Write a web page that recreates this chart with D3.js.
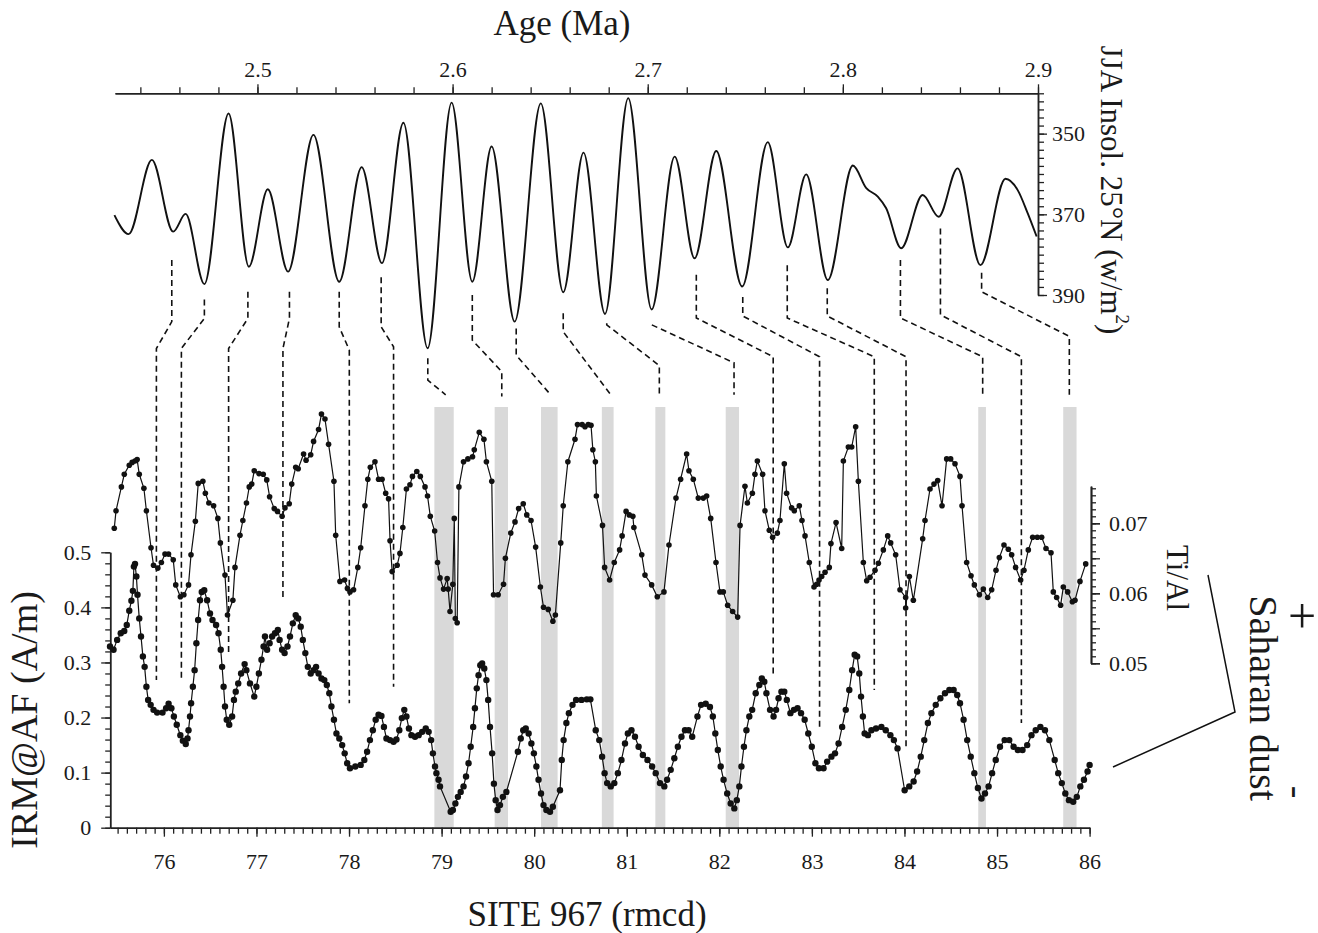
<!DOCTYPE html>
<html>
<head>
<meta charset="utf-8">
<script src="https://cdn.jsdelivr.net/npm/d3@7"></script>
<style>
body { margin: 0; background: #fff; }
text { font-family: "Liberation Serif", "Times New Roman", serif; fill: #1a1a1a; }
</style>
</head>
<body>
<div id="chart"></div>
<script>
const w = 1318;
const h = 933;

// tick labels
const ageTicks = [2.5, 2.6, 2.7, 2.8, 2.9];
const insolTicks = [350, 370, 390];
const tiAlTicks = [0.05, 0.06, 0.07];
const irmTicks = [0, 0.1, 0.2, 0.3, 0.4, 0.5];
const depthTicks = [76, 77, 78, 79, 80, 81, 82, 83, 84, 85, 86];

// JJA insolation 25N: [age Ma, W/m2]
const insolation = [
  [2.4267, 370.2], [2.4340, 374.9], [2.4459, 356.5], [2.4568, 374.3], [2.4632, 369.9],
  [2.4728, 387.3], [2.4852, 345.0], [2.4956, 383.0], [2.5053, 363.8], [2.5157, 384.2],
  [2.5287, 350.3], [2.5419, 386.7], [2.5534, 358.3], [2.5638, 382.1], [2.5748, 347.3],
  [2.5872, 403.2], [2.5995, 342.3], [2.6101, 386.7], [2.6200, 353.2], [2.6318, 396.6],
  [2.6452, 342.5], [2.6567, 389.3], [2.6671, 354.7], [2.6781, 394.7], [2.6900, 341.2],
  [2.7020, 393.6], [2.7138, 355.7], [2.7240, 380.9], [2.7351, 354.3], [2.7484, 387.9],
  [2.7615, 352.1], [2.7718, 378.2], [2.7812, 360.1], [2.7923, 386.3], [2.8051, 357.9],
  [2.8120, 363.5], [2.8179, 365.6], [2.8222, 368.5], [2.8299, 378.4], [2.8409, 365.2],
  [2.8491, 370.6], [2.8588, 358.6], [2.8705, 382.6], [2.8833, 361.2], [2.8896, 364.0],
  [2.8947, 369.7], [2.8993, 375.5]
];

// Ti/Al: [depth rmcd, ratio]
const tiAl = [
  [75.464, 0.0693], [75.483, 0.0718], [75.541, 0.0752], [75.572, 0.0770], [75.626, 0.0783],
  [75.657, 0.0787], [75.688, 0.0789], [75.711, 0.0791], [75.734, 0.0770], [75.784, 0.0750],
  [75.811, 0.0718], [75.861, 0.0665], [75.888, 0.0640], [75.935, 0.0636], [75.973, 0.0644],
  [76.012, 0.0656], [76.050, 0.0656], [76.101, 0.0648], [76.128, 0.0612], [76.178, 0.0595],
  [76.216, 0.0598], [76.266, 0.0612], [76.293, 0.0655], [76.340, 0.0703], [76.371, 0.0757],
  [76.421, 0.0760], [76.448, 0.0743], [76.486, 0.0729], [76.537, 0.0725], [76.583, 0.0707],
  [76.610, 0.0672], [76.660, 0.0626], [76.687, 0.0569], [76.745, 0.0590], [76.768, 0.0637],
  [76.822, 0.0683], [76.853, 0.0704], [76.892, 0.0729], [76.922, 0.0752], [76.949, 0.0756],
  [76.976, 0.0775], [77.027, 0.0771], [77.073, 0.0770], [77.111, 0.0762], [77.142, 0.0738],
  [77.192, 0.0721], [77.227, 0.0717], [77.277, 0.0710], [77.308, 0.0722], [77.354, 0.0728],
  [77.381, 0.0756], [77.424, 0.0780], [77.451, 0.0778], [77.509, 0.0799], [77.536, 0.0790],
  [77.586, 0.0798], [77.617, 0.0817], [77.671, 0.0834], [77.702, 0.0856], [77.740, 0.0849],
  [77.779, 0.0813], [77.837, 0.0760], [77.856, 0.0683], [77.902, 0.0617], [77.952, 0.0619],
  [77.983, 0.0607], [78.010, 0.0602], [78.049, 0.0605], [78.095, 0.0637], [78.126, 0.0665],
  [78.172, 0.0725], [78.203, 0.0763], [78.230, 0.0780], [78.280, 0.0788], [78.319, 0.0763],
  [78.357, 0.0763], [78.396, 0.0743], [78.427, 0.0735], [78.443, 0.0675], [78.466, 0.0631],
  [78.520, 0.0640], [78.550, 0.0657], [78.581, 0.0694], [78.620, 0.0749], [78.658, 0.0755],
  [78.685, 0.0767], [78.732, 0.0774], [78.770, 0.0767], [78.821, 0.0752], [78.848, 0.0739],
  [78.878, 0.0710], [78.925, 0.0689], [78.956, 0.0644], [78.983, 0.0622], [79.021, 0.0606],
  [79.060, 0.0621], [79.071, 0.0606], [79.091, 0.0574], [79.121, 0.0613], [79.137, 0.0707],
  [79.148, 0.0564], [79.168, 0.0558], [79.187, 0.0752], [79.237, 0.0788], [79.284, 0.0792],
  [79.334, 0.0795], [79.353, 0.0805], [79.407, 0.0830], [79.457, 0.0820], [79.484, 0.0788],
  [79.542, 0.0760], [79.561, 0.0598], [79.611, 0.0598], [79.669, 0.0613], [79.689, 0.0650],
  [79.747, 0.0686], [79.793, 0.0702], [79.832, 0.0721], [79.882, 0.0728], [79.920, 0.0712],
  [79.966, 0.0704], [80.016, 0.0666], [80.067, 0.0609], [80.101, 0.0580], [80.152, 0.0577],
  [80.202, 0.0560], [80.229, 0.0569], [80.287, 0.0672], [80.314, 0.0725], [80.364, 0.0788],
  [80.441, 0.0820], [80.468, 0.0841], [80.518, 0.0841], [80.549, 0.0838], [80.584, 0.0841],
  [80.614, 0.0840], [80.634, 0.0805], [80.661, 0.0788], [80.672, 0.0739], [80.738, 0.0697],
  [80.761, 0.0637], [80.815, 0.0619], [80.865, 0.0644], [80.923, 0.0662], [80.950, 0.0682],
  [80.993, 0.0717], [81.027, 0.0712], [81.066, 0.0710], [81.077, 0.0694], [81.162, 0.0655],
  [81.197, 0.0626], [81.269, 0.0612], [81.330, 0.0595], [81.402, 0.0602], [81.456, 0.0669],
  [81.532, 0.0736], [81.582, 0.0763], [81.647, 0.0799], [81.672, 0.0775], [81.719, 0.0763],
  [81.773, 0.0736], [81.827, 0.0736], [81.863, 0.0739], [81.907, 0.0707], [81.964, 0.0644],
  [82.007, 0.0602], [82.043, 0.0602], [82.090, 0.0583], [82.144, 0.0574], [82.198, 0.0566],
  [82.224, 0.0697], [82.277, 0.0753], [82.303, 0.0729], [82.357, 0.0743], [82.385, 0.0770],
  [82.411, 0.0789], [82.468, 0.0770], [82.493, 0.0718], [82.540, 0.0690], [82.576, 0.0680],
  [82.627, 0.0686], [82.655, 0.0704], [82.702, 0.0785], [82.727, 0.0743], [82.781, 0.0722],
  [82.810, 0.0718], [82.864, 0.0725], [82.893, 0.0704], [82.926, 0.0682], [82.972, 0.0644],
  [83.023, 0.0609], [83.052, 0.0613], [83.077, 0.0619], [83.106, 0.0624], [83.142, 0.0630],
  [83.188, 0.0637], [83.206, 0.0671], [83.261, 0.0701], [83.322, 0.0664], [83.340, 0.0789],
  [83.394, 0.0809], [83.430, 0.0809], [83.473, 0.0838], [83.502, 0.0760], [83.556, 0.0644],
  [83.592, 0.0618], [83.628, 0.0623], [83.682, 0.0633], [83.718, 0.0643], [83.772, 0.0662],
  [83.819, 0.0682], [83.851, 0.0672], [83.905, 0.0655], [83.952, 0.0605], [84.013, 0.0594],
  [84.013, 0.0579], [84.053, 0.0624], [84.096, 0.0590], [84.197, 0.0678], [84.222, 0.0704],
  [84.276, 0.0749], [84.319, 0.0756], [84.359, 0.0761], [84.406, 0.0725], [84.456, 0.0792],
  [84.499, 0.0792], [84.546, 0.0785], [84.600, 0.0767], [84.622, 0.0725], [84.672, 0.0644],
  [84.719, 0.0625], [84.755, 0.0612], [84.809, 0.0598], [84.852, 0.0606], [84.899, 0.0594],
  [84.942, 0.0605], [84.989, 0.0633], [85.025, 0.0651], [85.075, 0.0669], [85.122, 0.0663],
  [85.158, 0.0655], [85.201, 0.0637], [85.255, 0.0619], [85.291, 0.0633], [85.338, 0.0662],
  [85.385, 0.0680], [85.435, 0.0680], [85.482, 0.0680], [85.529, 0.0664], [85.583, 0.0658],
  [85.608, 0.0602], [85.644, 0.0594], [85.687, 0.0583], [85.716, 0.0609], [85.763, 0.0602],
  [85.814, 0.0588], [85.842, 0.0590], [85.896, 0.0617], [85.958, 0.0642]
];

// IRM@AF: [depth rmcd, A/m]
const irm = [
  [75.418, 0.329], [75.456, 0.323], [75.495, 0.341], [75.534, 0.353], [75.572, 0.357],
  [75.599, 0.368], [75.626, 0.394], [75.649, 0.412], [75.665, 0.430], [75.676, 0.474],
  [75.688, 0.479], [75.703, 0.456], [75.715, 0.423], [75.734, 0.380], [75.753, 0.347],
  [75.773, 0.311], [75.792, 0.292], [75.811, 0.256], [75.830, 0.232], [75.857, 0.223],
  [75.888, 0.214], [75.927, 0.209], [75.985, 0.209], [76.024, 0.217], [76.051, 0.225],
  [76.081, 0.217], [76.108, 0.202], [76.139, 0.187], [76.178, 0.168], [76.205, 0.158],
  [76.236, 0.152], [76.255, 0.162], [76.266, 0.177], [76.282, 0.202], [76.294, 0.226],
  [76.313, 0.256], [76.332, 0.286], [76.351, 0.335], [76.370, 0.377], [76.390, 0.413],
  [76.409, 0.428], [76.436, 0.431], [76.467, 0.413], [76.498, 0.389], [76.525, 0.377],
  [76.564, 0.368], [76.590, 0.353], [76.614, 0.323], [76.629, 0.292], [76.645, 0.256],
  [76.660, 0.220], [76.679, 0.196], [76.706, 0.187], [76.737, 0.202], [76.757, 0.232],
  [76.776, 0.247], [76.803, 0.262], [76.834, 0.280], [76.872, 0.297], [76.891, 0.286],
  [76.930, 0.262], [76.976, 0.238], [76.999, 0.256], [77.026, 0.280], [77.054, 0.305],
  [77.077, 0.329], [77.092, 0.347], [77.115, 0.323], [77.142, 0.335], [77.169, 0.347],
  [77.200, 0.353], [77.231, 0.359], [77.250, 0.341], [77.277, 0.323], [77.304, 0.317],
  [77.335, 0.329], [77.362, 0.347], [77.393, 0.371], [77.424, 0.386], [77.451, 0.380],
  [77.478, 0.365], [77.501, 0.341], [77.528, 0.317], [77.555, 0.292], [77.586, 0.280],
  [77.617, 0.286], [77.644, 0.292], [77.671, 0.280], [77.702, 0.271], [77.733, 0.268],
  [77.760, 0.259], [77.787, 0.244], [77.810, 0.220], [77.837, 0.196], [77.864, 0.171],
  [77.895, 0.162], [77.926, 0.150], [77.953, 0.135], [77.980, 0.117], [78.010, 0.108],
  [78.068, 0.111], [78.126, 0.114], [78.165, 0.123], [78.195, 0.138], [78.226, 0.159],
  [78.257, 0.177], [78.288, 0.196], [78.319, 0.205], [78.350, 0.203], [78.377, 0.183],
  [78.404, 0.162], [78.443, 0.159], [78.481, 0.156], [78.512, 0.160], [78.543, 0.177],
  [78.570, 0.199], [78.597, 0.214], [78.620, 0.202], [78.647, 0.180], [78.674, 0.168],
  [78.713, 0.165], [78.752, 0.168], [78.790, 0.174], [78.829, 0.180], [78.860, 0.174],
  [78.887, 0.159], [78.906, 0.135], [78.929, 0.111], [78.944, 0.099], [78.967, 0.087],
  [78.983, 0.075], [79.098, 0.029], [79.122, 0.032], [79.149, 0.044], [79.176, 0.056],
  [79.206, 0.065], [79.237, 0.075], [79.264, 0.093], [79.291, 0.117], [79.314, 0.147],
  [79.341, 0.183], [79.360, 0.217], [79.380, 0.253], [79.399, 0.277], [79.418, 0.295],
  [79.438, 0.298], [79.461, 0.289], [79.484, 0.268], [79.503, 0.232], [79.523, 0.183],
  [79.546, 0.135], [79.565, 0.080], [79.584, 0.050], [79.604, 0.032], [79.631, 0.041],
  [79.662, 0.056], [79.700, 0.065], [79.824, 0.138], [79.855, 0.162], [79.882, 0.177],
  [79.909, 0.180], [79.940, 0.171], [79.970, 0.153], [79.997, 0.135], [80.024, 0.111],
  [80.047, 0.087], [80.074, 0.062], [80.101, 0.041], [80.132, 0.032], [80.171, 0.029],
  [80.202, 0.038], [80.279, 0.068], [80.298, 0.123], [80.318, 0.159], [80.348, 0.190],
  [80.375, 0.208], [80.414, 0.223], [80.453, 0.232], [80.511, 0.232], [80.568, 0.233],
  [80.607, 0.233], [80.665, 0.177], [80.703, 0.159], [80.734, 0.129], [80.761, 0.099],
  [80.788, 0.081], [80.827, 0.075], [80.866, 0.081], [80.904, 0.099], [80.943, 0.123],
  [80.981, 0.153], [81.012, 0.171], [81.051, 0.177], [81.089, 0.165], [81.128, 0.147],
  [81.174, 0.132], [81.224, 0.123], [81.274, 0.111], [81.313, 0.099], [81.359, 0.081],
  [81.406, 0.075], [81.436, 0.087], [81.475, 0.105], [81.514, 0.126], [81.552, 0.147],
  [81.591, 0.165], [81.629, 0.177], [81.668, 0.177], [81.707, 0.165], [81.764, 0.202],
  [81.803, 0.223], [81.853, 0.225], [81.899, 0.219], [81.930, 0.202], [81.957, 0.171],
  [81.984, 0.141], [82.015, 0.111], [82.046, 0.087], [82.085, 0.062], [82.123, 0.044],
  [82.162, 0.035], [82.189, 0.050], [82.216, 0.075], [82.239, 0.111], [82.266, 0.147],
  [82.293, 0.177], [82.324, 0.202], [82.355, 0.214], [82.393, 0.244], [82.432, 0.259],
  [82.459, 0.271], [82.486, 0.265], [82.509, 0.244], [82.548, 0.214], [82.586, 0.202],
  [82.613, 0.214], [82.640, 0.235], [82.671, 0.247], [82.702, 0.247], [82.729, 0.232],
  [82.768, 0.208], [82.806, 0.214], [82.845, 0.217], [82.883, 0.208], [82.922, 0.196],
  [82.961, 0.171], [82.999, 0.147], [83.038, 0.117], [83.076, 0.108], [83.126, 0.108],
  [83.165, 0.120], [83.211, 0.129], [83.250, 0.135], [83.288, 0.153], [83.327, 0.183],
  [83.366, 0.214], [83.404, 0.250], [83.435, 0.286], [83.462, 0.314], [83.489, 0.311],
  [83.512, 0.280], [83.531, 0.238], [83.551, 0.202], [83.570, 0.171], [83.605, 0.168],
  [83.643, 0.177], [83.693, 0.180], [83.751, 0.183], [83.798, 0.177], [83.848, 0.168],
  [83.886, 0.159], [83.925, 0.144], [84.002, 0.068], [84.052, 0.075], [84.099, 0.084],
  [84.137, 0.102], [84.176, 0.129], [84.214, 0.159], [84.253, 0.190], [84.291, 0.208],
  [84.338, 0.223], [84.388, 0.235], [84.438, 0.244], [84.485, 0.250], [84.531, 0.250],
  [84.570, 0.241], [84.600, 0.226], [84.639, 0.196], [84.678, 0.159], [84.716, 0.129],
  [84.755, 0.099], [84.793, 0.072], [84.832, 0.053], [84.870, 0.062], [84.909, 0.075],
  [84.947, 0.099], [84.986, 0.123], [85.032, 0.147], [85.082, 0.159], [85.132, 0.159],
  [85.179, 0.147], [85.225, 0.141], [85.275, 0.141], [85.326, 0.150], [85.372, 0.168],
  [85.418, 0.177], [85.468, 0.183], [85.518, 0.177], [85.565, 0.159], [85.623, 0.123],
  [85.661, 0.099], [85.700, 0.081], [85.738, 0.062], [85.777, 0.050], [85.823, 0.047],
  [85.862, 0.056], [85.900, 0.075], [85.939, 0.087], [85.978, 0.102], [86.000, 0.114]
];

// low-dust intervals (depth from, to)
const dustBands = [
  [78.922, 79.131], [79.573, 79.717], [80.074, 80.253], [80.731, 80.858],
  [81.309, 81.417], [82.069, 82.213], [84.797, 84.880], [85.715, 85.859]
];

// tie points: [age, depth, insol start, insol bend, irm bend, irm end]
const ties = [
  [2.4561, 75.919, 381.3, 396.6, 0.870, 0.268],
  [2.4728, 76.189, 391.1, 395.8, 0.870, 0.271],
  [2.4951, 76.699, 389.2, 395.8, 0.870, 0.314],
  [2.5164, 77.286, 389.2, 395.8, 0.870, 0.413],
  [2.5419, 78.003, 389.2, 397.9, 0.867, 0.226],
  [2.5634, 78.481, 385.6, 397.9, 0.873, 0.256],
  [2.5873, 79.044, 405.7, 411.1, 0.786, 0.786],
  [2.6101, 79.650, 390.0, 401.2, 0.828, 0.783],
  [2.6326, 80.178, 398.3, 404.9, 0.786, 0.786],
  [2.6567, 80.827, 394.5, 399.1, 0.786, 0.786],
  [2.6790, 81.352, 397.0, 397.4, 0.839, 0.786],
  [2.7021, 82.159, 397.4, 397.4, 0.844, 0.786],
  [2.7249, 82.582, 385.0, 395.7, 0.855, 0.274],
  [2.7487, 83.083, 390.5, 395.2, 0.855, 0.177],
  [2.7715, 83.674, 382.6, 395.7, 0.855, 0.250],
  [2.7920, 84.017, 388.3, 395.2, 0.855, 0.147],
  [2.8295, 84.845, 381.3, 395.7, 0.855, 0.786],
  [2.8500, 85.263, 373.5, 394.9, 0.855, 0.190],
  [2.8711, 85.781, 384.5, 389.2, 0.892, 0.786]
];

const svg = d3.select("div#chart").append("svg")
    .attr("width", w).attr("height", h)
    .style("background-color", "#fff");

// scales
const xAge = d3.scaleLinear().domain([2.427, 2.9]).range([115, 1038]);
const yIns = d3.scaleLinear().domain([340, 390]).range([93.3, 295]);
const xDep = d3.scaleLinear().domain([75.42, 86]).range([110.2, 1089.6]);
const yTi = d3.scaleLinear().domain([0.05, 0.0753]).range([663.3, 486.2]);
const yIrm = d3.scaleLinear().domain([0, 0.5]).range([827.7, 552.3]);

const bandTop = 407;
const tickFont = 22;
const serif = "'Liberation Serif', 'Times New Roman', serif";

// grey bands
svg.selectAll("rect.band")
    .data(dustBands)
    .enter()
    .append("rect")
    .attr("class", "band")
    .attr("x", d => xDep(d[0]))
    .attr("width", d => xDep(d[1]) - xDep(d[0]))
    .attr("y", bandTop)
    .attr("height", yIrm(0) - bandTop)
    .attr("fill", "#d9d9d9");

function styleAxis(g) {
    g.attr("font-family", serif).attr("font-size", tickFont);
    g.selectAll("path.domain").attr("stroke", "#222").attr("stroke-width", 1.5);
    g.selectAll(".tick line").attr("stroke", "#222").attr("stroke-width", 1.3);
    g.selectAll("text").attr("fill", "#1a1a1a");
}

// top age axis
const ageMinor = d3.range(122, 146).map(i => i / 50);
svg.append("g").attr("transform", "translate(0,93.3)")
    .call(d3.axisTop(xAge).tickValues(ageMinor).tickSize(6).tickSizeOuter(0).tickFormat(""))
    .call(styleAxis);
svg.append("g").attr("transform", "translate(0,93.3)")
    .call(d3.axisTop(xAge).tickValues(ageTicks).tickSize(9).tickSizeOuter(0).tickPadding(7).tickFormat(d3.format(".1f")))
    .call(styleAxis);

// right insolation axis
const insMinor = d3.range(340, 391, 2);
svg.append("g").attr("transform", "translate(1038,0)")
    .call(d3.axisRight(yIns).tickValues(insMinor).tickSize(6).tickSizeOuter(0).tickFormat(""))
    .call(styleAxis);
svg.append("g").attr("transform", "translate(1038,0)")
    .call(d3.axisRight(yIns).tickValues(insolTicks).tickSize(9).tickSizeOuter(0).tickPadding(5).tickFormat(d3.format("d")))
    .call(styleAxis);

// Ti/Al axis
const tiMinor = d3.range(50, 76).map(i => i / 1000);
const tiMid = [0.05, 0.055, 0.06, 0.065, 0.07];
svg.append("g").attr("transform", "translate(1091,0)")
    .call(d3.axisRight(yTi).tickValues(tiMinor).tickSize(5).tickSizeOuter(0).tickFormat(""))
    .call(styleAxis);
svg.append("g").attr("transform", "translate(1091,0)")
    .call(d3.axisRight(yTi).tickValues(tiMid).tickSize(9).tickSizeOuter(0).tickFormat(""))
    .call(styleAxis);
svg.append("g").attr("transform", "translate(1091,0)")
    .call(d3.axisRight(yTi).tickValues(tiAlTicks).tickSize(9).tickSizeOuter(0).tickPadding(9).tickFormat(d3.format(".2f")))
    .call(styleAxis);

// IRM axis
const irmMinor = d3.range(0, 51, 2).map(i => i / 100);
svg.append("g").attr("transform", "translate(110.2,0)")
    .call(d3.axisLeft(yIrm).tickValues(irmMinor).tickSize(5).tickSizeOuter(0).tickFormat(""))
    .call(styleAxis);
svg.append("g").attr("transform", "translate(110.2,0)")
    .call(d3.axisLeft(yIrm).tickValues(irmTicks).tickSize(9).tickSizeOuter(0).tickPadding(10)
        .tickFormat(d => d === 0 ? "0" : d3.format(".1f")(d)))
    .call(styleAxis);

// depth axis
const depMinor = d3.range(755, 861).map(i => i / 10);
svg.append("g").attr("transform", "translate(0,827.7)")
    .call(d3.axisBottom(xDep).tickValues(depMinor).tickSize(6).tickSizeOuter(0).tickFormat(""))
    .call(styleAxis);
svg.append("g").attr("transform", "translate(0,827.7)")
    .call(d3.axisBottom(xDep).tickValues(depthTicks).tickSize(9).tickSizeOuter(0).tickPadding(17).tickFormat(d3.format("d")))
    .call(styleAxis);

// tie lines
const tieLine = d3.line();
svg.selectAll("path.tie")
    .data(ties)
    .enter()
    .append("path")
    .attr("class", "tie")
    .attr("d", d => tieLine([
        [xAge(d[0]), yIns(d[2])],
        [xAge(d[0]), yIns(d[3])],
        [xDep(d[1]), yIrm(d[4])],
        [xDep(d[1]), yIrm(d[5])]
    ]))
    .attr("fill", "none")
    .attr("stroke", "#111")
    .attr("stroke-width", 1.6)
    .attr("stroke-dasharray", "6,4");

// insolation curve
const insLine = d3.line()
    .x(d => xAge(d[0]))
    .y(d => yIns(d[1]))
    .curve(d3.curveMonotoneX);
svg.append("path")
    .datum(insolation)
    .attr("d", insLine)
    .attr("fill", "none")
    .attr("stroke", "#111")
    .attr("stroke-width", 1.9);

// Ti/Al curve
svg.append("path")
    .datum(tiAl)
    .attr("d", d3.line().x(d => xDep(d[0])).y(d => yTi(d[1])))
    .attr("fill", "none")
    .attr("stroke", "#111")
    .attr("stroke-width", 1.2);
svg.selectAll("circle.ti")
    .data(tiAl)
    .enter()
    .append("circle")
    .attr("class", "ti")
    .attr("cx", d => xDep(d[0]))
    .attr("cy", d => yTi(d[1]))
    .attr("r", 2.8)
    .attr("fill", "#111");

// IRM curve
svg.append("path")
    .datum(irm)
    .attr("d", d3.line().x(d => xDep(d[0])).y(d => yIrm(d[1])))
    .attr("fill", "none")
    .attr("stroke", "#111")
    .attr("stroke-width", 1.2);
svg.selectAll("circle.irm")
    .data(irm)
    .enter()
    .append("circle")
    .attr("class", "irm")
    .attr("cx", d => xDep(d[0]))
    .attr("cy", d => yIrm(d[1]))
    .attr("r", 3.2)
    .attr("fill", "#111");

// titles
svg.append("text")
    .text("Age (Ma)")
    .attr("x", 562).attr("y", 35)
    .attr("text-anchor", "middle")
    .attr("font-size", 35);

svg.append("text")
    .text("SITE 967 (rmcd)")
    .attr("x", 587).attr("y", 926)
    .attr("text-anchor", "middle")
    .attr("font-size", 35);

svg.append("text")
    .attr("transform", "translate(24,720) rotate(-90)")
    .attr("text-anchor", "middle")
    .attr("dominant-baseline", "central")
    .attr("font-size", 38)
    .text("IRM@AF (A/m)");

const insTitle = svg.append("text")
    .attr("transform", "translate(1112,190) rotate(90)")
    .attr("text-anchor", "middle")
    .attr("dominant-baseline", "central")
    .attr("font-size", 31);
insTitle.append("tspan").text("JJA Insol. 25°N (w/m");
insTitle.append("tspan").text("2").attr("font-size", 19).attr("dy", -11);
insTitle.append("tspan").text(")").attr("dy", 11);

svg.append("text")
    .attr("transform", "translate(1177,578) rotate(90)")
    .attr("text-anchor", "middle")
    .attr("dominant-baseline", "central")
    .attr("font-size", 31)
    .text("Ti/Al");

svg.append("text")
    .attr("transform", "translate(1263,698) rotate(90)")
    .attr("text-anchor", "middle")
    .attr("dominant-baseline", "central")
    .attr("font-size", 40)
    .text("Saharan dust");

svg.append("text")
    .attr("x", 1302).attr("y", 616)
    .attr("text-anchor", "middle")
    .attr("dominant-baseline", "central")
    .attr("font-size", 50)
    .text("+");

svg.append("text")
    .attr("transform", "translate(1297,792) rotate(90)")
    .attr("text-anchor", "middle")
    .attr("dominant-baseline", "central")
    .attr("font-size", 38)
    .text("-");

// bracket joining the two proxies to the label
svg.append("path")
    .attr("d", d3.line()([[1208, 575], [1235, 712], [1113, 767]]))
    .attr("fill", "none")
    .attr("stroke", "#111")
    .attr("stroke-width", 1.5);
</script>
</body>
</html>
